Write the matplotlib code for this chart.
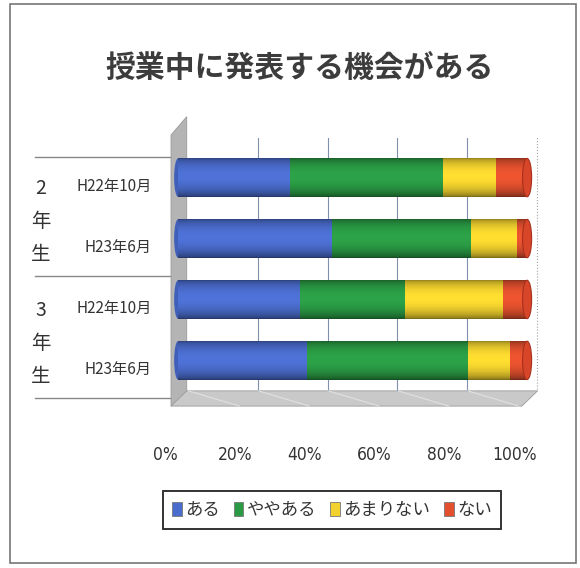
import matplotlib
matplotlib.use('Agg')
import matplotlib.pyplot as plt
import numpy as np
from matplotlib.patches import Rectangle, Polygon, Ellipse
from matplotlib.transforms import ScaledTranslation, blended_transform_factory
from matplotlib import colors as mcolors

plt.rcParams['font.family'] = ['Noto Sans CJK JP', 'DejaVu Sans']

title = '授業中に発表する機会がある'
periods = ['H22年10月', 'H23年6月', 'H22年10月', 'H23年6月']
grades = ['2\n年\n生', '3\n年\n生']
answers = ['ある', 'ややある', 'あまりない', 'ない']
aru = [32, 44, 35, 37]
yaya = [44, 40, 30, 46]
amari = [15, 13, 28, 12]
nai = [9, 3, 7, 5]
ticks = [0, 20, 40, 60, 80, 100]
series = [aru, yaya, amari, nai]
colors = ['#4a6ccc', '#2a9a44', '#f2d22e', '#e2502e']

fig = plt.figure(figsize=(5.8, 5.68), dpi=100)
W, H = 580, 568

# axes box in pixels: x 165..540, y 138..400
ax = fig.add_axes([165 / W, 1 - 400 / H, 375 / W, 262 / H])
ax.set_xlim(-3.72, 103.7)
ax.set_ylim(3.65, -0.65)
for s in ax.spines.values():
    s.set_visible(False)
ax.set_yticks([])

# outer frame
fig.patches.append(Rectangle((10 / W, 1 - 563 / H), 566 / W, 559 / H,
                             transform=fig.transFigure, fill=False,
                             ec='#777777', lw=1.2))

fig.text(300 / W, 1 - 68 / H, title, ha='center', va='center',
         fontsize=21.5, fontweight='bold', color='#3c3c3c')

# side wall, floor and back-wall gridlines
ax.add_patch(Polygon([[-2, -0.7], [2.5, -1.0], [2.5, 3.55], [-2, 3.75]],
                     closed=True, fc='#b4b4b4', ec='#9a9a9a', lw=0.6,
                     clip_on=False, zorder=0))
ax.add_patch(Polygon([[-2, 3.75], [2.5, 3.5], [103, 3.5], [98.5, 3.75]],
                     closed=True, fc='#c9c9c9', ec='#9a9a9a', lw=0.6,
                     clip_on=False, zorder=0))
back = ax.transData + ScaledTranslation(10 / 100, 0, fig.dpi_scale_trans)
ax.vlines(ticks[1:-1], -0.95, 3.5, color='#8090b0', lw=0.8, transform=back,
          zorder=0.5)
ax.vlines([ticks[-1]], -0.95, 3.5, color='#a0a0a0', lw=0.8, ls=':',
          transform=back, zorder=0.5)
for x in ticks[:-1]:
    ax.plot([x + 3, x - 2 + 20 * 0.98], [3.5, 3.75], color='#e0e0e0', lw=0.8,
            clip_on=False, zorder=0.6)

# stacked cylinders
y = np.arange(len(periods))
left = np.zeros(len(periods))
t = np.linspace(0, 1, 64)
shade = 0.62 + 0.5 * np.sin(np.pi * t) ** 0.6 - 0.12 * t
for vals, c, name in zip(series, colors, answers):
    bars = ax.barh(y, vals, left=left, height=0.63, color=c, label=name,
                   edgecolor='none', zorder=2)
    rgb = np.array(mcolors.to_rgb(c))
    img = np.clip(rgb[None, :] * shade[:, None], 0, 1)[:, None, :]
    for b in bars:
        x0, y0 = b.get_x(), b.get_y()
        im = ax.imshow(img, extent=[x0, x0 + b.get_width(), y0 + b.get_height(), y0],
                       aspect='auto', zorder=2.1, interpolation='bilinear')
        im.set_clip_path(b)
    left += np.array(vals)

# end caps of the cylinders
for yi in y:
    ax.add_patch(Ellipse((0, yi), 2.2, 0.63, fc='#3f5fb8', ec='none', zorder=1.9))
    ax.add_patch(Ellipse((left[yi], yi), 2.6, 0.63, fc='#d8462a',
                         ec='#a8301c', lw=0.8, zorder=2.3))
ax.set_xlim(-3.72, 103.7)
ax.set_ylim(3.65, -0.65)

# x tick labels below the floor
ax.set_xticks(ticks)
ax.set_xticklabels([f'{v}%' for v in ticks],
                   family=['Liberation Sans Narrow', 'DejaVu Sans'],
                   fontstretch='condensed', fontsize=12.5, color='#333333')
ax.tick_params(axis='x', length=0, pad=33)
for lab in ax.get_xticklabels():
    lab.set_transform(lab.get_transform() +
                      ScaledTranslation(-13 / 100, 0, fig.dpi_scale_trans))

# category table on the left
tr = blended_transform_factory(fig.transFigure, ax.transData)
for yl in [-0.34, 1.62, 3.62]:
    ax.plot([35 / W, 170 / W], [yl, yl], color='#888888', lw=1.0,
            transform=tr, clip_on=False)
for yi, p in zip(y, periods):
    ax.text(152 / W, yi + 0.15, p, transform=tr, ha='right', va='center',
            fontsize=11, color='#333333')
for gi, g in enumerate(grades):
    ax.text(41 / W, 2 * gi + 0.72, g, transform=tr, ha='center', va='center',
            fontsize=14, color='#333333', linespacing=1.75)

# legend
leg = fig.legend(loc='center', bbox_to_anchor=(332 / W, 1 - 510 / H), ncol=4,
                 frameon=True, fancybox=False, fontsize=12.5, handlelength=0.55,
                 handleheight=0.9, handletextpad=0.2, columnspacing=0.8,
                 borderpad=0.55, borderaxespad=0, edgecolor='black')
leg.get_frame().set_linewidth(1.4)
for h in leg.legend_handles:
    h.set_edgecolor('#777777')
    h.set_linewidth(0.6)
for tx in leg.get_texts():
    tx.set_color('#333333')

fig.savefig('out.png', dpi=100)
